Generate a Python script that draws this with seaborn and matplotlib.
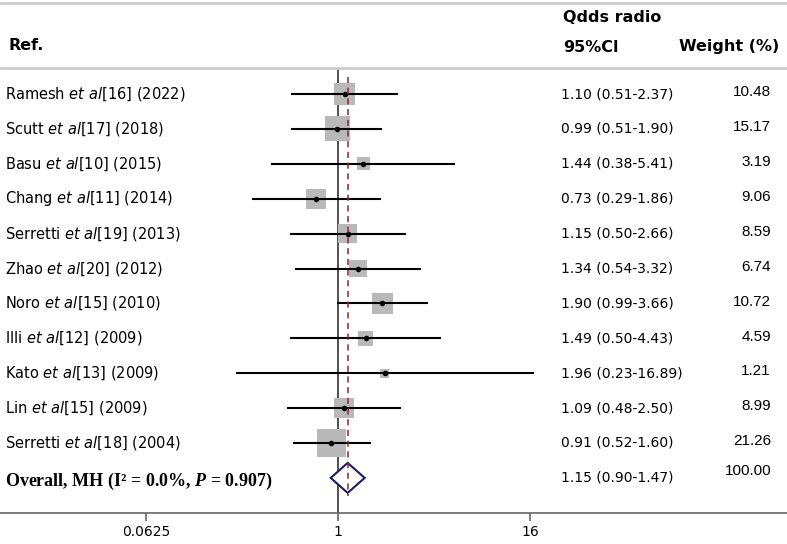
import numpy as np
import pandas as pd
import matplotlib
matplotlib.use("Agg")
import matplotlib.pyplot as plt
import matplotlib.transforms as mtransforms
from matplotlib.patches import Polygon
import seaborn as sns

# Study data
studies = ["Ramesh", "Scutt", "Basu", "Chang", "Serretti", "Zhao",
           "Noro", "Illi", "Kato", "Lin", "Serretti"]
refs = [16, 17, 10, 11, 19, 20, 15, 12, 13, 15, 18]
years = [2022, 2018, 2015, 2014, 2013, 2012, 2010, 2009, 2009, 2009, 2004]
odds = [1.10, 0.99, 1.44, 0.73, 1.15, 1.34, 1.90, 1.49, 1.96, 1.09, 0.91]
ci_low = [0.51, 0.51, 0.38, 0.29, 0.50, 0.54, 0.99, 0.50, 0.23, 0.48, 0.52]
ci_high = [2.37, 1.90, 5.41, 1.86, 2.66, 3.32, 3.66, 4.43, 16.89, 2.50, 1.60]
weights = [10.48, 15.17, 3.19, 9.06, 8.59, 6.74, 10.72, 4.59, 1.21, 8.99, 21.26]

# Pooled estimate
pooled_or = 1.15
pooled_low = 0.90
pooled_high = 1.47
pooled_weight = 100.00

tick_vals = [0.0625, 1, 16]
tick_labels = ["0.0625", "1", "16"]

df = pd.DataFrame({"study": studies, "ref": refs, "year": years, "OR": odds,
                   "lo": ci_low, "hi": ci_high, "w": weights})
df["row"] = np.arange(len(df))
# box side in points grows with sqrt(weight)
df["box"] = ((3.1 + 5.6 * np.sqrt(df["w"])) * 0.72) ** 2
overall_row = len(df)

sns.set_style("white")
plt.rcParams["text.color"] = "black"
plt.rcParams["xtick.color"] = "black"
plt.rcParams["mathtext.fontset"] = "custom"
plt.rcParams["mathtext.rm"] = "DejaVu Sans"
plt.rcParams["mathtext.it"] = "DejaVu Sans:italic"
plt.rcParams["mathtext.bf"] = "DejaVu Sans:bold"
plt.rcParams["mathtext.bfit"] = "Liberation Serif:italic:bold"

fig = plt.figure(figsize=(7.87, 5.44), dpi=100)
ax_bottom = 513
ax = fig.add_axes([0, (544 - ax_bottom) / 544, 1, ax_bottom / 544])

# pixel -> row helpers
row0, row_step = 94, 34.9
def prow(p):
    return (p - row0) / row_step

ax.set_xscale("log", base=2)
ax.set_xlim(2 ** (-338 / 48), 2 ** ((787 - 338) / 48))
ax.set_ylim(prow(ax_bottom), prow(0))

# confidence intervals
ax.hlines(df["row"], df["lo"], df["hi"], color="black", lw=1.5, zorder=3)

# weight boxes
sns.scatterplot(data=df, x="OR", y="row", size="box",
                sizes=(df["box"].min(), df["box"].max()),
                marker="s", color="#b9b9b9", linewidth=0, legend=False,
                ax=ax, zorder=2)
# point estimates
sns.scatterplot(data=df, x="OR", y="row", marker="o", color="black",
                s=16, linewidth=0, legend=False, ax=ax, zorder=4)

# pooled diamond
dh = 15 / row_step
diamond = Polygon([(pooled_low, overall_row), (pooled_or, overall_row - dh),
                   (pooled_high, overall_row), (pooled_or, overall_row + dh)],
                  closed=True, facecolor="white", edgecolor="#1c1c66",
                  lw=1.5, zorder=3)
ax.add_patch(diamond)

# reference lines
ax.vlines(1, prow(68), prow(ax_bottom), color="#444444", lw=1.3, zorder=1)
ax.vlines(pooled_or, prow(77), prow(496), color="#8b2a2a", lw=1.1,
          linestyles=(0, (4, 3)), zorder=5)

# header separators
for p in [3, 68]:
    ax.axhline(prow(p), color="#cccccc", lw=2)

# axis styling
for s in ["top", "left", "right"]:
    ax.spines[s].set_visible(False)
ax.spines["bottom"].set_color("#666666")
ax.spines["bottom"].set_linewidth(1.2)
ax.set_xticks(tick_vals)
ax.set_xticklabels(tick_labels)
ax.xaxis.set_minor_locator(matplotlib.ticker.NullLocator())
ax.tick_params(axis="x", direction="out", length=6, width=1.2,
               color="#666666", labelcolor="black", pad=3, labelsize=10,
               bottom=True)
ax.set_yticks([])
ax.set_xlabel("")
ax.set_ylabel("")

trans = mtransforms.blended_transform_factory(ax.transAxes, ax.transData)
def fx(p):
    return p / 787

# headers
hdr = dict(family="DejaVu Sans", weight="bold", fontsize=11.5,
           transform=trans, va="center", color="black")
ax.text(fx(8), prow(46), "Ref.", ha="left", **hdr)
ax.text(fx(563), prow(17), "Qdds radio", ha="left", **hdr)
ax.text(fx(563), prow(47), "95%Cl", ha="left", **hdr)
ax.text(fx(779), prow(47), "Weight (%)", ha="right", **hdr)

# rows
for _, r in df.iterrows():
    label = f"{r['study']} $\\mathit{{et\\ al}}$[{r['ref']}] ({r['year']})"
    ax.text(fx(5), r["row"], label, ha="left", va="center", fontsize=10.5,
            family="DejaVu Sans", transform=trans)
    ax.text(fx(561), r["row"], f"{r['OR']:.2f} ({r['lo']:.2f}-{r['hi']:.2f})",
            ha="left", va="center", fontsize=10, family="DejaVu Sans",
            transform=trans)
    ax.text(fx(771), r["row"] - 0.05, f"{r['w']:.2f}", ha="right", va="center",
            fontsize=11, family="Liberation Sans", transform=trans)

ax.text(fx(5), overall_row + 0.1, "Overall, MH (I² = 0.0%, $\\mathbfit{P}$ = 0.907)",
        ha="left", va="center", fontsize=13, family="Liberation Serif",
        weight="bold", transform=trans)
ax.text(fx(561), overall_row,
        f"{pooled_or:.2f} ({pooled_low:.2f}-{pooled_high:.2f})",
        ha="left", va="center", fontsize=10, family="DejaVu Sans",
        transform=trans)
ax.text(fx(771), overall_row - 0.2, f"{pooled_weight:.2f}", ha="right",
        va="center", fontsize=11, family="Liberation Sans", transform=trans)

fig.savefig("out.png", dpi=100)
